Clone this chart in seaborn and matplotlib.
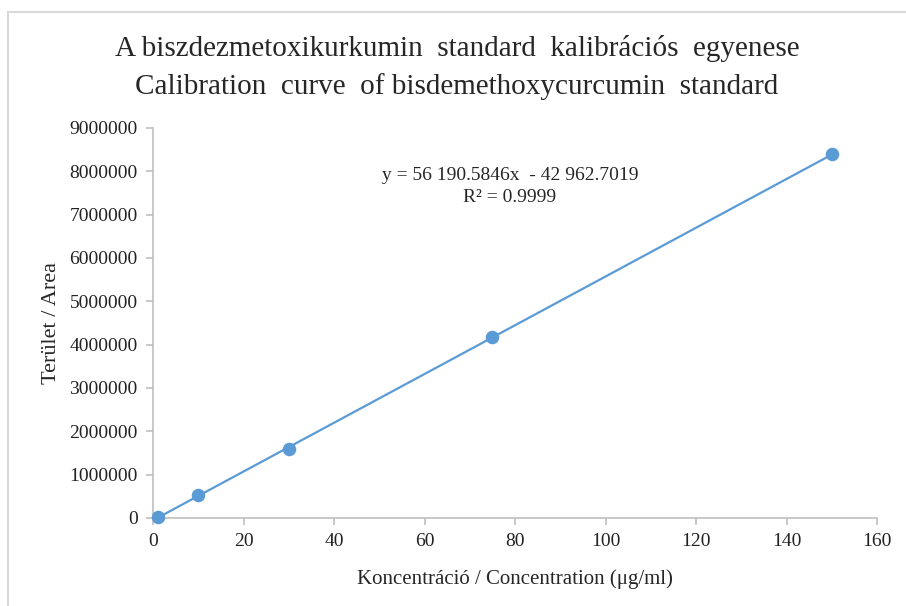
import numpy as np
import pandas as pd
import seaborn as sns
import matplotlib.pyplot as plt

# calibration data
conc = [1, 10, 30, 75, 150]
area = [20000, 520000, 1600000, 4170000, 8390000]
xticks = [0, 20, 40, 60, 80, 100, 120, 140, 160]
yticks = [0, 1000000, 2000000, 3000000, 4000000, 5000000, 6000000, 7000000, 8000000, 9000000]

title1 = "A biszdezmetoxikurkumin  standard  kalibrációs  egyenese"
title2 = "Calibration  curve  of bisdemethoxycurcumin  standard"
eq1 = "y = 56 190.5846x  - 42 962.7019"
eq2 = "R² = 0.9999"
xlabel = "Koncentráció / Concentration (μg/ml)"
ylabel = "Terület / Area"

blue = "#5B9BD5"
grey = "#BFBFBF"

sns.set_style("white")
plt.rcParams['font.family'] = ['Liberation Serif', 'DejaVu Serif']

df = pd.DataFrame({"conc": conc, "area": area})

fig = plt.figure(figsize=(9.06, 6.06), dpi=100)
ax = fig.add_axes([153 / 906, 1 - 518 / 606, (877 - 153) / 906, (518 - 128) / 606])

sns.regplot(data=df, x="conc", y="area", ax=ax, ci=None, color=blue,
            scatter_kws={"s": 95, "alpha": 1, "linewidths": 0, "zorder": 4},
            line_kws={"lw": 1.6, "zorder": 3})

ax.set_xlim(0, 160)
ax.set_ylim(0, 9000000)
ax.set_xticks(xticks)
ax.set_yticks(yticks)
ax.set_xticklabels([str(t) for t in xticks])
ax.set_yticklabels([str(t) for t in yticks])
ax.tick_params(labelsize=14, length=5, width=1.2, color=grey, direction="out",
               bottom=True, left=True, pad=6, labelcolor="#222222")
for side in ["top", "right"]:
    ax.spines[side].set_visible(False)
for side in ["left", "bottom"]:
    ax.spines[side].set_color(grey)
    ax.spines[side].set_linewidth(1.2)
for c in ax.collections:
    c.set_clip_on(False)

ax.set_xlabel(xlabel, fontsize=15, labelpad=14)
ax.set_ylabel(ylabel, fontsize=16, labelpad=6)

ax.text(0.493, 1 - (175 - 128) / 390, eq1, transform=ax.transAxes, ha="center",
        va="center", fontsize=14)
ax.text(0.493, 1 - (197 - 128) / 390, eq2, transform=ax.transAxes, ha="center",
        va="center", fontsize=14)

fig.text(457 / 906, 1 - 48 / 606, title1, ha="center", va="center", fontsize=21)
fig.text(457 / 906, 1 - 87 / 606, title2, ha="center", va="center", fontsize=21)

# outer chart border
fig.add_artist(plt.Rectangle((8 / 906, -0.1), 1.2, 1 - 12 / 606 + 0.1,
                             transform=fig.transFigure, fill=False,
                             edgecolor="#D9D9D9", lw=1.5))

fig.savefig("out.png", dpi=100)
